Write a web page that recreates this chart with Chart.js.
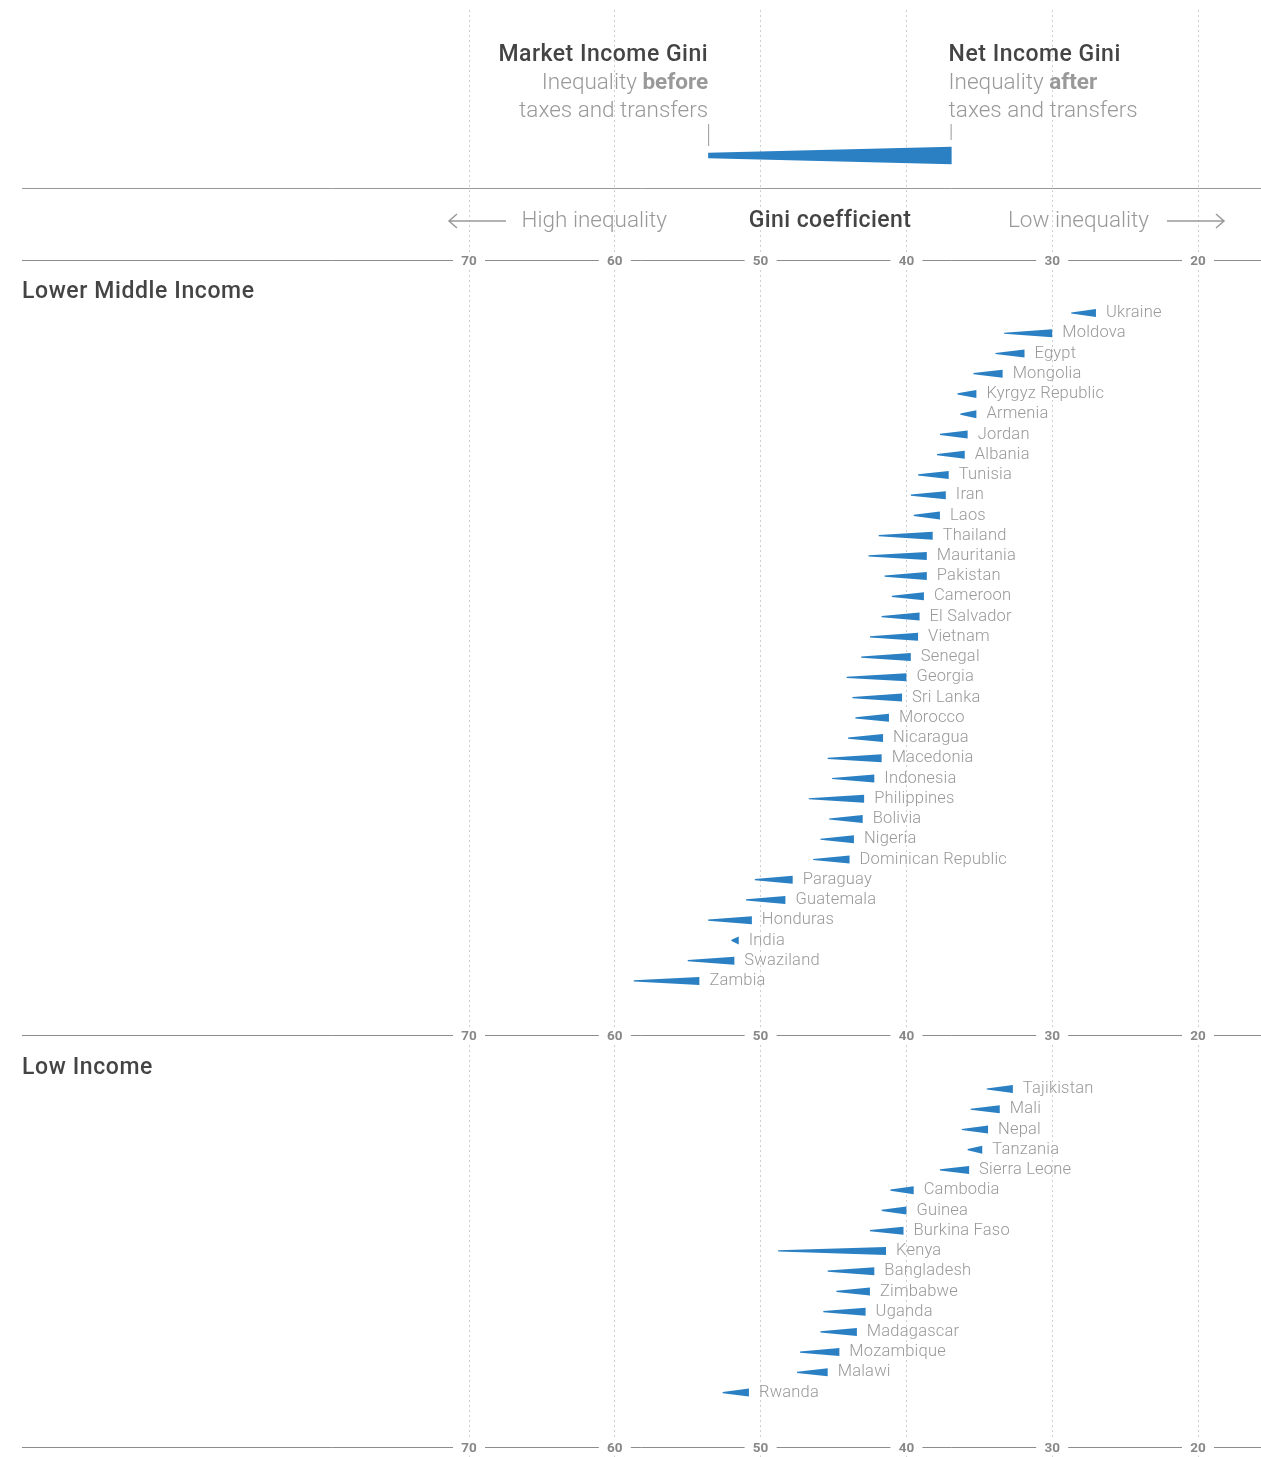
<!DOCTYPE html>
<html>
<head>
<meta charset="utf-8">
<script src="https://cdn.jsdelivr.net/npm/chart.js@4.4.1/dist/chart.umd.min.js"></script>
<style>
  html, body { margin: 0; padding: 0; background: #fff; }
  #wrap { position: relative; width: 1261px; height: 1457px; }
</style>
</head>
<body>
<div id="wrap"><canvas id="gini"></canvas></div>
<script>
// Gini before (market) and after (net) taxes and transfers
const lmiCountries = ['Ukraine','Moldova','Egypt','Mongolia','Kyrgyz Republic','Armenia','Jordan','Albania',
  'Tunisia','Iran','Laos','Thailand','Mauritania','Pakistan','Cameroon','El Salvador','Vietnam','Senegal',
  'Georgia','Sri Lanka','Morocco','Nicaragua','Macedonia','Indonesia','Philippines','Bolivia','Nigeria',
  'Dominican Republic','Paraguay','Guatemala','Honduras','India','Swaziland','Zambia'];
const lmiMarket = [28.7, 33.3, 33.9, 35.4, 36.5, 36.3, 37.7, 37.9, 39.2, 39.7, 39.5, 41.9, 42.6, 41.5, 41.0, 41.7, 42.5,
  43.1, 44.1, 43.7, 43.5, 44.0, 45.4, 45.1, 46.7, 45.3, 45.9, 46.4, 50.4, 51.0, 53.6, 52.0, 55.0, 58.7];
const lmiNet = [27.0, 30.0, 31.9, 33.4, 35.2, 35.2, 35.8, 36.0, 37.1, 37.3, 37.7, 38.2, 38.6, 38.6, 38.8, 39.1, 39.2,
  39.7, 40.0, 40.3, 41.2, 41.6, 41.7, 42.2, 42.9, 43.0, 43.6, 43.9, 47.8, 48.3, 50.6, 51.5, 51.8, 54.2];

const liCountries = ['Tajikistan','Mali','Nepal','Tanzania','Sierra Leone','Cambodia','Guinea','Burkina Faso',
  'Kenya','Bangladesh','Zimbabwe','Uganda','Madagascar','Mozambique','Malawi','Rwanda'];
const liMarket = [34.5, 35.6, 36.2, 35.8, 37.7, 41.1, 41.7, 42.5, 48.8, 45.4, 44.8, 45.7, 45.9, 47.3, 47.5, 52.6];
const liNet = [32.7, 33.6, 34.4, 34.8, 35.7, 39.5, 40.0, 40.2, 41.4, 42.2, 42.5, 42.8, 43.4, 44.6, 45.4, 50.8];

const tickValues = [70, 60, 50, 40, 30, 20];
const legendGini = [53.6, 36.9];   // example wedge in the key

// vertical layout, in row units (one country per row)
const ROW_PX = 20.24, FIRST_ROW_PX = 313;
const rowAt = px => (px - FIRST_ROW_PX) / ROW_PX;
const liOffset = lmiCountries.length - 1 + 5.34;
const axisRows = [rowAt(260), rowAt(1035), rowAt(1447)];

const BLUE = '#2a80c3';
const FONT = '"Helvetica Neue", Roboto, Arial, sans-serif';

function wedge(ctx, x0, x1, y, h0, h1) {
  ctx.beginPath();
  ctx.moveTo(x0, y - h0);
  ctx.lineTo(x1, y - h1);
  ctx.lineTo(x1, y + h1);
  ctx.lineTo(x0, y + h0);
  ctx.closePath();
  ctx.fill();
}

const wedgePlugin = {
  id: 'wedges',
  afterDatasetsDraw(chart) {
    const {ctx, scales: {x, y}} = chart;
    ctx.save();
    chart.data.datasets.forEach(ds => {
      ds.data.forEach((d, i) => {
        const [m, n] = d.x;
        const pm = x.getPixelForValue(m), pn = x.getPixelForValue(n);
        const py = y.getPixelForValue(d.y);
        ctx.fillStyle = BLUE;
        wedge(ctx, pm, pn, py, 0.6, 4);
        ctx.fillStyle = '#999';
        ctx.font = '300 16.5px ' + FONT;
        ctx.letterSpacing = '0.2px';
        ctx.textAlign = 'left';
        ctx.textBaseline = 'middle';
        ctx.fillText(ds.labels[i], pn + 10, py);
      });
    });
    ctx.restore();
  },
  afterDraw(chart) {
    const {ctx, scales: {x, y}, chartArea} = chart;
    ctx.save();
    ctx.lineWidth = 1;

    // key
    const pm = x.getPixelForValue(legendGini[0]), pn = x.getPixelForValue(legendGini[1]);
    const ky = y.getPixelForValue(rowAt(155.5));
    ctx.fillStyle = BLUE;
    wedge(ctx, pm, pn, ky, 2.7, 8.8);
    ctx.strokeStyle = '#999';
    ctx.beginPath();
    ctx.moveTo(pm + 0.5, 124); ctx.lineTo(pm + 0.5, 146);
    ctx.moveTo(pn - 0.5, 124); ctx.lineTo(pn - 0.5, 140);
    ctx.stroke();

    const bold = '500 23px ' + FONT, light = '300 22.5px ' + FONT, strong = 'bold 22.5px ' + FONT;
    ctx.textBaseline = 'alphabetic';
    ctx.textAlign = 'right';
    ctx.letterSpacing = '0.5px';
    ctx.font = bold;
    ctx.fillStyle = '#444';
    ctx.fillText('Market Income Gini', pm, 61);
    ctx.letterSpacing = '0px';
    ctx.font = strong;
    ctx.fillStyle = '#999';
    ctx.fillText('before', pm, 89);
    const wb = ctx.measureText('before').width;
    ctx.font = light;
    ctx.fillText('Inequality ', pm - wb, 89);
    ctx.fillText('taxes and transfers', pm, 117);

    const nx = pn - 3;
    ctx.textAlign = 'left';
    ctx.letterSpacing = '0.5px';
    ctx.font = bold;
    ctx.fillStyle = '#444';
    ctx.fillText('Net Income Gini', nx, 61);
    ctx.letterSpacing = '0px';
    ctx.font = light;
    ctx.fillStyle = '#999';
    ctx.fillText('Inequality ', nx, 89);
    const wi = ctx.measureText('Inequality ').width;
    ctx.font = strong;
    ctx.fillText('after', nx + wi, 89);
    ctx.font = light;
    ctx.fillText('taxes and transfers', nx, 117);

    // header rule
    ctx.strokeStyle = '#999';
    ctx.beginPath();
    ctx.moveTo(chartArea.left, 188.5); ctx.lineTo(chartArea.right, 188.5);
    ctx.stroke();

    // direction row
    const ay = 221;
    ctx.textBaseline = 'middle';
    ctx.font = light;
    ctx.fillStyle = '#999';
    ctx.textAlign = 'right';
    ctx.fillText('High inequality', 667, ay);
    ctx.textAlign = 'left';
    ctx.fillText('Low inequality', 1008, ay);
    ctx.textAlign = 'center';
    ctx.letterSpacing = '0.4px';
    ctx.font = bold;
    ctx.fillStyle = '#444';
    ctx.fillText('Gini coefficient', 830, ay);
    ctx.letterSpacing = '0px';

    ctx.strokeStyle = '#999';
    ctx.lineWidth = 1.5;
    ctx.beginPath();
    ctx.moveTo(506, ay); ctx.lineTo(449, ay);
    ctx.moveTo(457, ay - 7); ctx.lineTo(449, ay); ctx.lineTo(457, ay + 7);
    ctx.moveTo(1167, ay); ctx.lineTo(1224, ay);
    ctx.moveTo(1216, ay - 7); ctx.lineTo(1224, ay); ctx.lineTo(1216, ay + 7);
    ctx.stroke();

    // panel axes with tick labels
    ctx.lineWidth = 1;
    axisRows.forEach(r => {
      const py = Math.round(y.getPixelForValue(r)) + 0.5;
      ctx.strokeStyle = '#8c8c8c';
      ctx.beginPath();
      ctx.moveTo(chartArea.left, py); ctx.lineTo(chartArea.right, py);
      ctx.stroke();
      ctx.font = 'bold 13.5px ' + FONT;
      ctx.textAlign = 'center';
      ctx.textBaseline = 'middle';
      tickValues.forEach(v => {
        const px = x.getPixelForValue(v);
        ctx.fillStyle = '#fff';
        ctx.fillRect(px - 16, py - 8, 32, 16);
        ctx.fillStyle = '#888';
        ctx.fillText(String(v), px, py + 1);
      });
    });

    // panel titles
    ctx.font = bold;
    ctx.letterSpacing = '0.6px';
    ctx.fillStyle = '#444';
    ctx.textAlign = 'left';
    ctx.textBaseline = 'alphabetic';
    ctx.fillText('Lower Middle Income', chartArea.left, y.getPixelForValue(rowAt(298)));
    ctx.fillText('Low Income', chartArea.left, y.getPixelForValue(rowAt(1074)));
    ctx.restore();
  }
};

new Chart(document.getElementById('gini'), {
  type: 'bar',
  data: {
    datasets: [
      {
        label: 'Lower Middle Income',
        labels: lmiCountries,
        data: lmiCountries.map((c, i) => ({x: [lmiMarket[i], lmiNet[i]], y: i})),
        backgroundColor: 'rgba(0,0,0,0)',
        grouped: false,
        barThickness: 8
      },
      {
        label: 'Low Income',
        labels: liCountries,
        data: liCountries.map((c, i) => ({x: [liMarket[i], liNet[i]], y: liOffset + i})),
        backgroundColor: 'rgba(0,0,0,0)',
        grouped: false,
        barThickness: 8
      }
    ]
  },
  options: {
    indexAxis: 'y',
    responsive: true,
    maintainAspectRatio: false,
    animation: false,
    layout: { padding: { top: 10, left: 22, right: 0, bottom: 0 } },
    plugins: { legend: { display: false }, tooltip: { enabled: false } },
    scales: {
      x: {
        type: 'linear',
        reverse: true,
        min: 15.68,
        max: 100.66,
        afterBuildTicks: s => { s.ticks = tickValues.map(v => ({value: v})); },
        ticks: { display: false },
        grid: { color: '#cfcfcf', lineWidth: 1, drawTicks: false },
        border: { display: false, dash: [2, 3] }
      },
      y: {
        type: 'linear',
        reverse: true,
        offset: false,
        min: rowAt(10),
        max: rowAt(1457),
        display: false
      }
    }
  },
  plugins: [wedgePlugin]
});
</script>
</body>
</html>
